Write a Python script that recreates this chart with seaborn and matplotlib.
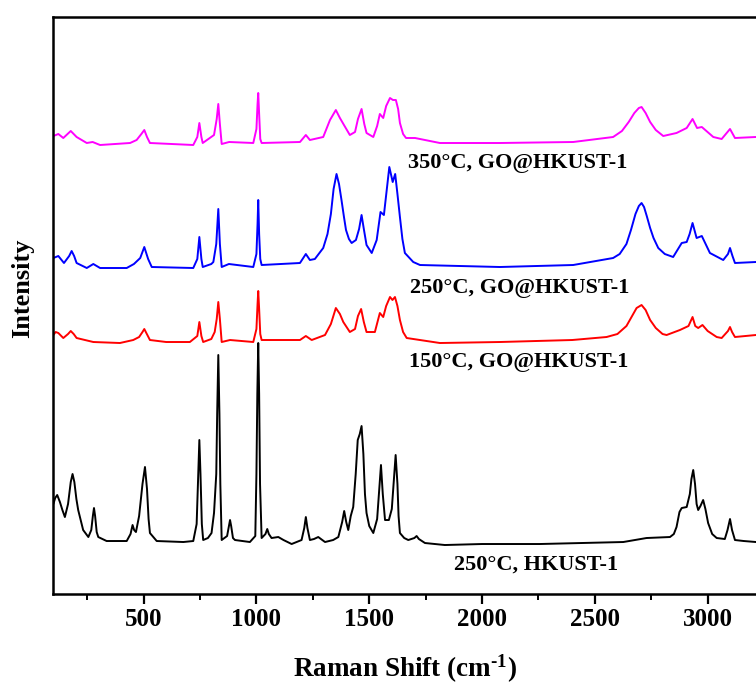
import numpy as np
import pandas as pd
import matplotlib
matplotlib.use("Agg")
import matplotlib.pyplot as plt
import seaborn as sns
from matplotlib.ticker import MultipleLocator

sns.set_theme(style="ticks")
plt.rcParams['font.family'] = ['Liberation Serif', 'DejaVu Serif']
plt.rcParams['font.weight'] = 'bold'
plt.rcParams['mathtext.fontset'] = 'custom'
plt.rcParams['mathtext.rm'] = 'Liberation Serif:bold'
plt.rcParams['mathtext.bf'] = 'Liberation Serif:bold'
plt.rcParams['mathtext.default'] = 'bf'
plt.rcParams['text.color'] = 'black'
plt.rcParams['axes.labelcolor'] = 'black'
plt.rcParams['xtick.color'] = 'black'
plt.rcParams['ytick.color'] = 'black'

# ---------------- data ----------------
black_x = [100, 108, 117, 129, 140, 151, 165, 177, 185, 193, 202, 210, 232, 255, 268, 275, 280, 285, 292, 299,
           336, 425, 442, 451, 458, 466, 480, 495, 506, 515, 522, 528, 558, 676, 720, 735, 742, 747, 752, 758,
           764, 785, 801, 812, 822, 826, 831, 836, 840, 846, 870, 878, 883, 888, 896, 905, 971, 995, 1000, 1004,
           1008, 1012, 1016, 1023, 1040, 1048, 1055, 1067, 1097, 1120, 1156, 1200, 1212, 1219, 1226, 1237, 1255,
           1274, 1304, 1340, 1363, 1380, 1389, 1398, 1407, 1418, 1429, 1440, 1449, 1458, 1466, 1474, 1481, 1488,
           1500, 1518, 1535, 1543, 1552, 1560, 1570, 1587, 1600, 1608, 1617, 1625, 1630, 1636, 1655, 1673, 1700,
           1710, 1720, 1747, 1835, 2000, 2256, 2450, 2626, 2729, 2833, 2850, 2862, 2875, 2885, 2907, 2921, 2928,
           2936, 2944, 2951, 2958, 2968, 2980, 2990, 3002, 3020, 3040, 3076, 3088, 3099, 3108, 3121, 3160, 3214]
black_y = [90, 96, 99, 92, 84, 77, 90, 112, 120, 112, 95, 84, 64, 57, 64, 78, 86, 78, 62, 57,
           53, 53, 60, 69, 64, 62, 78, 110, 127, 105, 75, 61, 53, 52, 53, 70, 120, 154, 120, 70,
           54, 56, 61, 81, 120, 180, 239, 180, 110, 54, 58, 68, 74, 68, 56, 54, 52, 58, 120, 200,
           251, 200, 110, 56, 60, 65, 60, 56, 57, 54, 50, 54, 66, 77, 66, 54, 55,
           57, 52, 54, 57, 72, 83, 72, 64, 78, 87, 120, 154, 160, 168, 140, 100, 81,
           68, 61, 75, 100, 129, 100, 74, 74, 85, 110, 139, 110, 78, 61, 56, 54, 56,
           58, 55, 51, 49, 50, 50, 51, 52, 56, 57, 60, 67, 82, 86, 87, 100, 115,
           124, 110, 90, 84, 88, 94, 85, 71, 60, 56, 55, 64, 75, 64, 54, 53, 52]

red_x = [100, 110, 122, 144, 165, 177, 190, 203, 240, 277, 395, 454, 480, 495, 503, 512, 528, 600, 705, 738,
         747, 756, 764, 800, 815, 824, 831, 838, 846, 883, 986, 1000, 1005, 1008, 1012, 1017, 1023, 1193, 1219,
         1245, 1304, 1330, 1352, 1370, 1385, 1414, 1437, 1450, 1464, 1476, 1488, 1525, 1540, 1547, 1562, 1575,
         1592, 1603, 1614, 1625, 1636, 1650, 1666, 1813, 2079, 2400, 2552, 2600, 2640, 2665, 2685, 2707, 2725,
         2745, 2770, 2800, 2818, 2877, 2915, 2933, 2945, 2958, 2977, 3000, 3040, 3062, 3090, 3099, 3108, 3121, 3214]
red_y = [59, 62, 61, 56, 60, 63, 60, 56, 54, 52, 51, 54, 57, 62, 65, 61, 54, 52, 52, 58,
         72, 58, 52, 55, 62, 75, 92, 75, 52, 54, 52, 65, 90, 103, 85, 60, 54, 54, 58,
         54, 59, 70, 86, 80, 72, 62, 65, 78, 85, 72, 62, 62, 75, 81, 77, 88,
         97, 94, 97, 88, 74, 62, 56, 51, 52, 54, 57, 60, 68, 78, 86, 89, 84,
         74, 66, 60, 59, 64, 68, 77, 68, 66, 69, 63, 57, 56, 63, 67, 62, 57, 59]

blue_x = [100, 122, 147, 170, 181, 192, 203, 248, 277, 307, 425, 457, 485, 503, 520, 536, 720, 738, 747, 756,
          762, 800, 809, 822, 831, 838, 846, 878, 986, 1000, 1005, 1008, 1012, 1017, 1023, 1193, 1219, 1237,
          1259, 1296, 1315, 1330, 1342, 1355, 1366, 1377, 1388, 1397, 1410, 1422, 1441, 1455, 1466, 1476, 1488,
          1511, 1533, 1550, 1565, 1578, 1589, 1604, 1615, 1625, 1636, 1647, 1658, 1695, 1725, 2079, 2404, 2581,
          2610, 2640, 2660, 2680, 2695, 2707, 2718, 2730, 2745, 2760, 2781, 2810, 2847, 2885, 2907, 2920, 2933,
          2951, 2974, 3010, 3069, 3090, 3099, 3110, 3121, 3214]
blue_y = [56, 58, 51, 58, 63, 58, 51, 46, 50, 46, 46, 50, 56, 67, 55, 47, 46, 55, 77, 55,
          47, 50, 52, 70, 105, 70, 47, 50, 47, 60, 90, 114, 80, 55, 49, 51, 60, 54,
          55, 66, 80, 100, 125, 140, 130, 114, 97, 84, 75, 71, 74, 85, 99, 85, 69,
          61, 74, 102, 99, 125, 147, 132, 140, 120, 97, 75, 61, 52, 49, 47, 49, 56,
          60, 70, 84, 100, 108, 111, 107, 98, 86, 76, 66, 60, 57, 71, 72, 80, 91,
          76, 78, 61, 54, 60, 66, 58, 51, 52]

magenta_x = [100, 122, 144, 177, 203, 248, 274, 307, 440, 469, 490, 503, 515, 528, 720, 738, 747, 756, 762, 812,
             824, 831, 838, 846, 879, 986, 1000, 1005, 1008, 1012, 1017, 1023, 1193, 1219, 1237, 1296, 1326, 1352,
             1370, 1388, 1414, 1437, 1450, 1466, 1478, 1488, 1518, 1535, 1547, 1562, 1575, 1592, 1605, 1618, 1628,
             1636, 1650, 1663, 1703, 1813, 2079, 2404, 2581, 2620, 2650, 2675, 2695, 2707, 2725, 2745, 2770, 2803,
             2862, 2907, 2933, 2953, 2974, 3025, 3062, 3099, 3121, 3214]
magenta_y = [58, 60, 56, 63, 57, 51, 52, 49, 51, 54, 60, 64, 57, 51, 49, 57, 71, 57, 51, 59,
             75, 90, 70, 50, 52, 51, 65, 90, 101, 80, 55, 51, 52, 59, 54, 57, 74, 84,
             76, 69, 59, 62, 75, 85, 70, 61, 57, 68, 80, 76, 88, 96, 94, 94, 85,
             71, 60, 56, 56, 51, 51, 52, 57, 63, 72, 81, 86, 87, 81, 72, 64, 58,
             61, 66, 75, 66, 67, 57, 55, 65, 56, 57]

series_names = ["250°C, HKUST-1", "150°C, GO@HKUST-1", "250°C, GO@HKUST-1", "350°C, GO@HKUST-1"]
series_x = [black_x, red_x, blue_x, magenta_x]
series_y = [black_y, red_y, blue_y, magenta_y]
offsets = [0, 200, 280, 400]
colors = ["#000000", "#FF0000", "#0000FF", "#FF00FF"]
label_x = [2239, 2161, 2166, 2157]
label_y = [29, 232, 306, 431]

# ---------------- figure ----------------
fig = plt.figure(figsize=(7.56, 6.88), dpi=100)
ax = fig.add_axes([0.0706, 0.1366, 0.955, 0.8387])
ax.set_facecolor("white")

frames = []
for name, xs, ys, off in zip(series_names, series_x, series_y, offsets):
    frames.append(pd.DataFrame({"shift": xs, "intensity": np.array(ys) + off, "sample": name}))
df = pd.concat(frames, ignore_index=True)

for name, col in zip(series_names, colors):
    sub = df[df["sample"] == name]
    sns.lineplot(data=sub, x="shift", y="intensity", color=col, lw=1.4,
                 sort=False, estimator=None, ax=ax, legend=False)

for name, lx, ly in zip(series_names, label_x, label_y):
    ax.text(lx, ly, name, ha="center", va="center", fontsize=16, fontweight="bold", color="black")

ax.set_xlim(100, 3300)
ax.set_ylim(0, 577)
ax.set_yticks([])
ax.xaxis.set_major_locator(MultipleLocator(500))
ax.xaxis.set_minor_locator(MultipleLocator(250))
ax.tick_params(axis="x", which="major", direction="out", length=7, width=1.6, labelsize=18, pad=3,
               colors="black")
ax.tick_params(axis="x", which="minor", direction="out", length=4, width=1.4, colors="black")
for lab in ax.get_xticklabels():
    lab.set_fontweight("bold")
    lab.set_color("black")
for s in ax.spines.values():
    s.set_linewidth(1.8)
    s.set_color("black")

ax.set_xlabel(r"Raman Shift (cm$^{\text{-}1}$)", fontsize=19.5, fontweight="bold", color="black")
ax.set_ylabel("Intensity", fontsize=19, fontweight="bold", color="black")
ax.xaxis.set_label_coords(0.487, -0.102)
ax.yaxis.set_label_coords(-0.027, 0.53)

fig.savefig("out.png", dpi=100, facecolor="white")
